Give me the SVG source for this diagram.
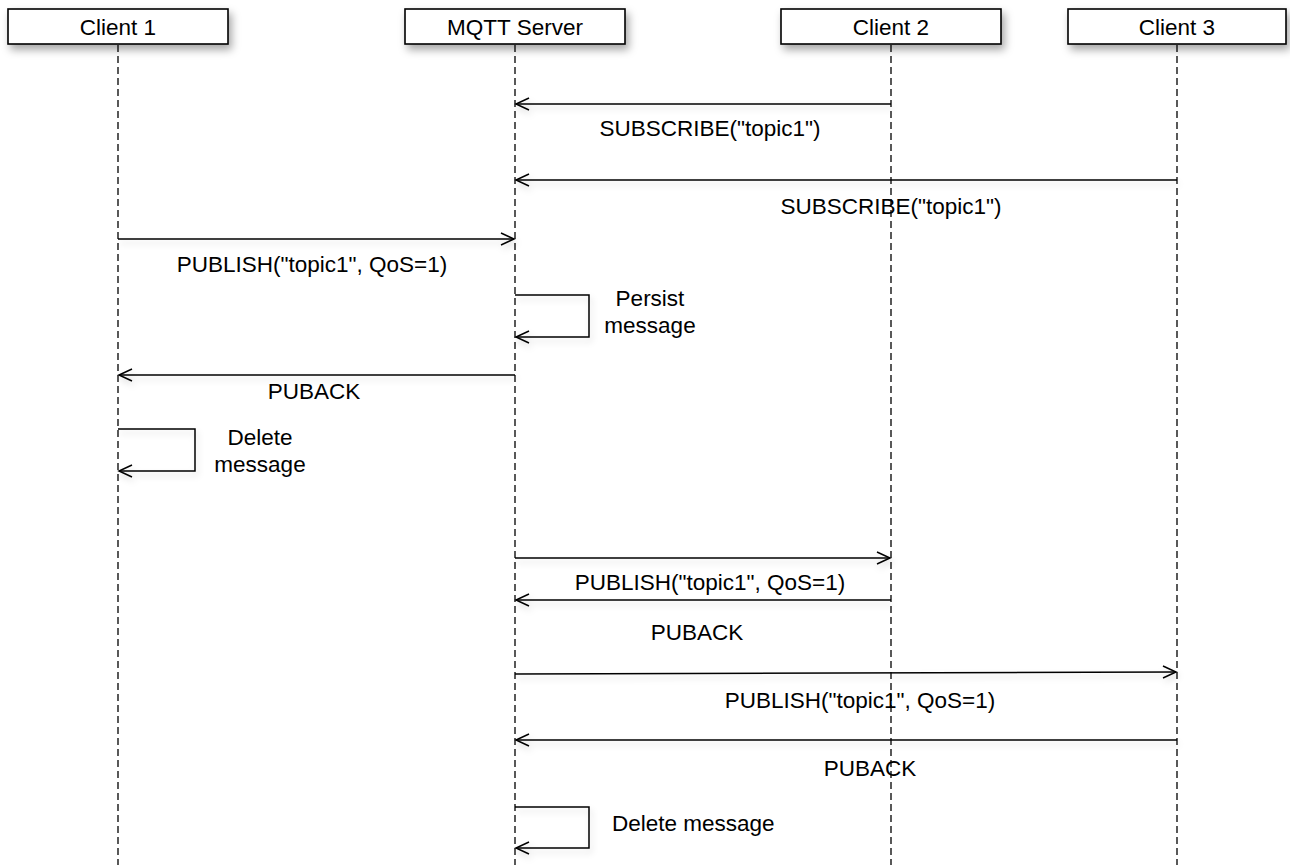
<svg xmlns="http://www.w3.org/2000/svg" width="1290" height="865" viewBox="0 0 1290 865">
<style>
text{font-family:"Liberation Sans",Arial,Helvetica,sans-serif;font-size:22.5px;fill:#000}
.box{fill:#fff;stroke:#000;stroke-width:1.6}
.life{stroke:#000;stroke-width:1.3;stroke-dasharray:7,4;fill:none}
.msg{stroke:#000;stroke-width:1.5;fill:none}
.lbl{text-anchor:middle}
</style>
<defs>
<filter id="sh" x="-10%" y="-30%" width="125%" height="180%">
<feDropShadow dx="3" dy="5" stdDeviation="4" flood-color="#000" flood-opacity="0.35"/>
</filter>
<filter id="lsh" x="-5%" y="-200%" width="110%" height="500%">
<feDropShadow dx="2" dy="4" stdDeviation="3" flood-color="#000" flood-opacity="0.15"/>
</filter>
<marker id="arr" markerWidth="16" markerHeight="14" refX="14" refY="7" orient="auto" markerUnits="userSpaceOnUse">
<path d="M1,1 L14,7 L1,13" fill="none" stroke="#000" stroke-width="1.5"/>
</marker>
</defs>
<rect width="1290" height="865" fill="#fff"/>
<g id="lifelines">
<line class="life" x1="118" y1="45" x2="118" y2="865"/>
<line class="life" x1="515" y1="45" x2="515" y2="865"/>
<line class="life" x1="891" y1="45" x2="891" y2="865"/>
<line class="life" x1="1177" y1="45" x2="1177" y2="865"/>
</g>
<g id="client1">
<rect class="box" x="8" y="9" width="220" height="35" filter="url(#sh)"/>
<text class="lbl" x="118" y="35">Client 1</text>
</g>
<g id="mqtt-server">
<rect class="box" x="405" y="9" width="220" height="35" filter="url(#sh)"/>
<text class="lbl" x="515" y="35">MQTT Server</text>
</g>
<g id="client2">
<rect class="box" x="781" y="9" width="220" height="35" filter="url(#sh)"/>
<text class="lbl" x="891" y="35">Client 2</text>
</g>
<g id="client3">
<rect class="box" x="1068" y="9" width="218" height="35" filter="url(#sh)"/>
<text class="lbl" x="1177" y="35">Client 3</text>
</g>
<g id="connectors" filter="url(#lsh)">
<line class="msg" x1="891" y1="104" x2="516" y2="104" marker-end="url(#arr)"/>
<line class="msg" x1="1177" y1="180" x2="516" y2="180" marker-end="url(#arr)"/>
<line class="msg" x1="118" y1="239" x2="514" y2="239" marker-end="url(#arr)"/>
<polyline class="msg" points="515,295 589,295 589,337 516,337" marker-end="url(#arr)"/>
<line class="msg" x1="515" y1="375" x2="119" y2="375" marker-end="url(#arr)"/>
<polyline class="msg" points="118,429 195,429 195,471 119,471" marker-end="url(#arr)"/>
<line class="msg" x1="515" y1="558" x2="890" y2="558" marker-end="url(#arr)"/>
<line class="msg" x1="891" y1="600" x2="516" y2="600" marker-end="url(#arr)"/>
<line class="msg" x1="515" y1="674" x2="1176" y2="672" marker-end="url(#arr)"/>
<line class="msg" x1="1177" y1="740" x2="516" y2="740" marker-end="url(#arr)"/>
<polyline class="msg" points="515,807 589,807 589,848 516,848" marker-end="url(#arr)"/>
</g>
<g id="labels">
<text class="lbl" x="710" y="136">SUBSCRIBE("topic1")</text>
<text class="lbl" x="891" y="214">SUBSCRIBE("topic1")</text>
<text class="lbl" x="312" y="272">PUBLISH("topic1", QoS=1)</text>
<text class="lbl" x="650" y="306">Persist</text>
<text class="lbl" x="650" y="333">message</text>
<text class="lbl" x="314" y="399">PUBACK</text>
<text class="lbl" x="260" y="445">Delete</text>
<text class="lbl" x="260" y="472">message</text>
<text class="lbl" x="710" y="590">PUBLISH("topic1", QoS=1)</text>
<text class="lbl" x="697" y="640">PUBACK</text>
<text class="lbl" x="860" y="708">PUBLISH("topic1", QoS=1)</text>
<text class="lbl" x="870" y="776">PUBACK</text>
<text x="612" y="831">Delete message</text>
</g>
</svg>
